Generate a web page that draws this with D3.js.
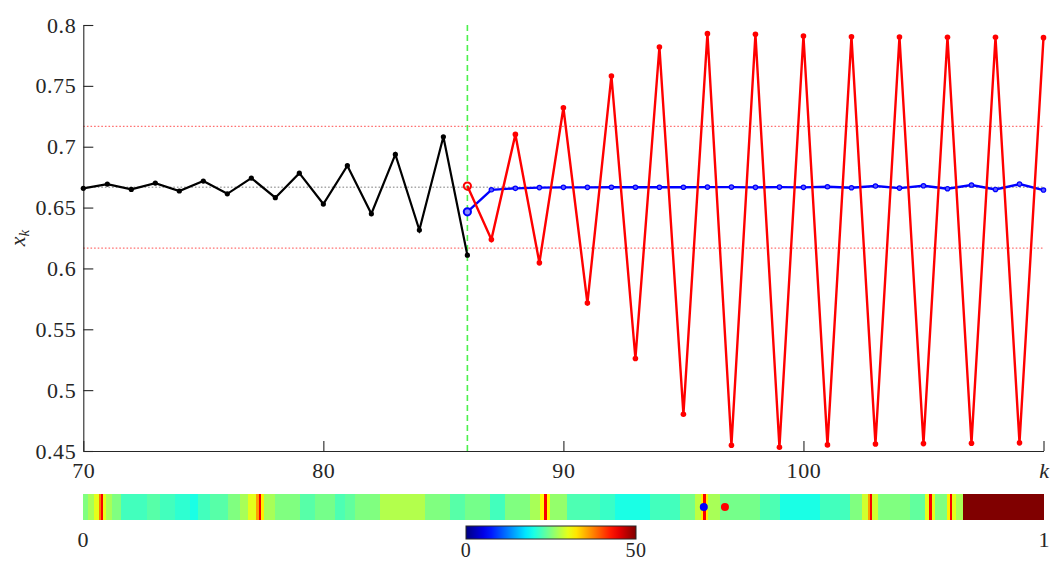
<!DOCTYPE html>
<html><head><meta charset="utf-8">
<script src="https://cdn.jsdelivr.net/npm/d3@7"></script>
<style>
body{margin:0;background:#fff;}
svg{display:block;}
text{font-family:"Liberation Serif","Times New Roman",serif;fill:#262626;}
</style></head><body>
<svg id="c" width="1050" height="564"></svg>
<script>
// ---------- data ----------
const kBlack = [70,71,72,73,74,75,76,77,78,79,80,81,82,83,84,85,86];
const xBlack = [0.6658,0.6693,0.6649,0.6701,0.6636,0.6718,0.6613,0.6742,0.6581,0.6783,0.6529,0.6844,0.6449,0.6937,0.6315,0.7082,0.6109];
const kRed = [86,87,88,89,90,91,92,93,94,95,96,97,98,99,100,101,102,103,104,105,106,107,108,109,110];
const xRed = [0.6677,0.6238,0.7101,0.6046,0.7320,0.5715,0.7581,0.5260,0.7819,0.4802,0.7929,0.4547,0.7923,0.4531,0.7910,0.4550,0.7904,0.4558,0.7901,0.4561,0.7899,0.4564,0.7899,0.4567,0.7896];
const kBlue = kRed;
const xBlue = [0.6465,0.6646,0.6658,0.6664,0.6666,0.6666,0.6667,0.6667,0.6667,0.6667,0.6668,0.6668,0.6666,0.6668,0.6666,0.6671,0.6663,0.6677,0.6660,0.6679,0.6655,0.6685,0.6649,0.6693,0.6644];
const fixedPoint = 2/3;
const bandLevels = [0.7167, 0.6167];
const kSwitch = 86;
const xTicks = [70,80,90,100,110];
const xTickLabels = ["70","80","90","100","k"];
const yTicks = [0.45,0.5,0.55,0.6,0.65,0.7,0.75,0.8];
const yTickLabels = ["0.45","0.5","0.55","0.6","0.65","0.7","0.75","0.8"];
// strip: parameter breakpoints in [0,1] and value (0..50) of each segment
const stripEdges = [0,0.0052,0.0114,0.0166,0.0187,0.0208,0.0239,0.0302,0.0395,0.0666,0.0801,0.0957,0.1113,0.1197,0.1322,0.1509,0.1634,0.1717,0.1800,0.1831,0.1852,0.1883,0.1998,0.2258,0.2414,0.2622,0.2726,0.2830,0.3091,0.3559,0.3819,0.3975,0.4235,0.4391,0.4651,0.4755,0.4797,0.4828,0.4860,0.5036,0.5380,0.5536,0.5900,0.6212,0.6368,0.6431,0.6452,0.6483,0.6504,0.6629,0.7045,0.7253,0.7669,0.7981,0.8106,0.8169,0.8189,0.8210,0.8273,0.8606,0.8762,0.8803,0.8835,0.8866,0.8990,0.9022,0.9043,0.9084,0.9157,1];
const stripValues = [25,27,30,38,44,30,27,25,22,23,22,21,20,22,23,25,27,30,36,44,32,27,25,23,24.5,22.5,23.5,25,27.5,25,23,24.5,22,25,27,31,44,31,26,22.5,21.5,20,22,24.5,28,32,44,32,27,24.5,22.5,20,22,25,29,36,44,29,25,23.5,30,44,30,25,32,44,30,27,50];
const stripMarkers = [{p:0.646,color:"#0000ff"},{p:0.668,color:"#ff0000"}];
const cbarDomain = [0,50];
const stripTickLabels = ["0","1"];

// ---------- helpers ----------
function jet(t){
  t=Math.max(0,Math.min(1,t));
  const f=(a)=>Math.max(0,Math.min(1,a));
  const r=f(1.5-Math.abs(4*t-3)), g=f(1.5-Math.abs(4*t-2)), b=f(1.5-Math.abs(4*t-1));
  return d3.rgb(r*255,g*255,b*255).formatHex();
}
const FONT='"Liberation Serif","Times New Roman",serif';

const svg=d3.select("#c");
const x=d3.scaleLinear().domain([70,110]).range([83.3,1043.5]);
const y=d3.scaleLinear().domain([0.45,0.8]).range([451,25]);

// reference lines
const ref=svg.append("g");
ref.selectAll("line.band").data(bandLevels).join("line")
  .attr("x1",x(70)).attr("x2",x(110)).attr("y1",d=>y(d)).attr("y2",d=>y(d))
  .attr("stroke","#ff7070").attr("stroke-width",1.4).attr("stroke-dasharray","1.6,2");
ref.append("line").attr("x1",x(70)).attr("x2",x(110)).attr("y1",y(fixedPoint)).attr("y2",y(fixedPoint))
  .attr("stroke","#a8a8a8").attr("stroke-width",1.4).attr("stroke-dasharray","1.6,2");
ref.append("line").attr("x1",x(kSwitch)).attr("x2",x(kSwitch)).attr("y1",y(0.8)).attr("y2",y(0.45))
  .attr("stroke","#4cf04c").attr("stroke-width",1.6).attr("stroke-dasharray","6,4");

// axes
const yAxis=svg.append("g").attr("transform",`translate(${x(70)},0)`)
  .call(d3.axisLeft(y).tickValues(yTicks).tickFormat((d,i)=>yTickLabels[i]).tickSize(-10).tickSizeOuter(0).tickPadding(7));
const xAxis=svg.append("g").attr("transform",`translate(0,${y(0.45)})`)
  .call(d3.axisBottom(x).tickValues(xTicks).tickFormat((d,i)=>xTickLabels[i]).tickSize(-10).tickSizeOuter(0));
[yAxis,xAxis].forEach(a=>{
  a.attr("font-family",FONT);
  a.select(".domain").attr("stroke","#262626").attr("stroke-width",1.1);
  a.selectAll(".tick line").attr("stroke","#262626").attr("stroke-width",1.1);
  a.selectAll(".tick text").style("font-family",FONT).attr("font-size",22).attr("fill","#262626").attr("letter-spacing","0.6px");
});
xAxis.selectAll(".tick text").attr("y",27).attr("dy","0");
xAxis.selectAll(".tick text").filter((d,i)=>xTickLabels[i]==="k").attr("font-style","italic").attr("letter-spacing","0");

// y label
const yl=svg.append("text").attr("transform",`translate(25,238) rotate(-90)`).attr("text-anchor","middle")
  .attr("font-size",22);
yl.append("tspan").attr("font-style","italic").text("x");
yl.append("tspan").attr("font-style","italic").attr("font-size",15).attr("dy",4).text("k");

const line=d3.line().x(d=>x(d[0])).y(d=>y(d[1]));
function series(ks,vs){ return ks.map((k,i)=>[k,vs[i]]); }

// black series
const bData=series(kBlack,xBlack);
svg.append("path").attr("d",line(bData)).attr("fill","none").attr("stroke","#000").attr("stroke-width",2.2);
svg.selectAll("circle.b").data(bData).join("circle").attr("cx",d=>x(d[0])).attr("cy",d=>y(d[1])).attr("r",2.6).attr("fill","#000");

// blue series
const blData=series(kBlue,xBlue);
svg.append("path").attr("d",line(blData)).attr("fill","none").attr("stroke","#0000ff").attr("stroke-width",2.4);
svg.selectAll("circle.bl").data(blData.slice(1)).join("circle").attr("cx",d=>x(d[0])).attr("cy",d=>y(d[1])).attr("r",2.2)
  .attr("fill","#5a5aff").attr("stroke","#0000ff").attr("stroke-width",1.2);
svg.append("circle").attr("cx",x(blData[0][0])).attr("cy",y(blData[0][1])).attr("r",3.6).attr("fill","#8c8cff").attr("stroke","#0000ff").attr("stroke-width",2);

// red series
const rData=series(kRed,xRed);
svg.append("path").attr("d",line(rData)).attr("fill","none").attr("stroke","#ff0000").attr("stroke-width",2.4);
svg.selectAll("circle.r").data(rData.slice(1)).join("circle").attr("cx",d=>x(d[0])).attr("cy",d=>y(d[1])).attr("r",2.8).attr("fill","#ff0000");
svg.append("circle").attr("cx",x(rData[0][0])).attr("cy",y(rData[0][1])).attr("r",3.6).attr("fill","none").attr("stroke","#ff0000").attr("stroke-width",2);

// strip
const p=d3.scaleLinear().domain([0,1]).range([83,1044]);
const c=d3.scaleLinear().domain(cbarDomain).range([0,1]);
const segs=stripValues.map((v,i)=>({a:stripEdges[i],b:stripEdges[i+1],v}));
svg.append("g").selectAll("rect").data(segs).join("rect")
  .attr("x",d=>p(d.a)).attr("width",d=>p(d.b)-p(d.a)+0.4).attr("y",494).attr("height",26)
  .attr("fill",d=>jet(c(d.v))).attr("shape-rendering","crispEdges");
svg.selectAll("circle.sm").data(stripMarkers).join("circle").attr("cx",d=>p(d.p)).attr("cy",507).attr("r",4).attr("fill",d=>d.color);
svg.selectAll("text.st").data([0,1]).join("text").attr("x",d=>p(d)).attr("y",547).attr("text-anchor","middle")
  .attr("font-size",22).text((d,i)=>stripTickLabels[i]);

// colorbar
const cb=d3.scaleLinear().domain(cbarDomain).range([466,636]);
const grad=svg.append("defs").append("linearGradient").attr("id","jetg");
d3.range(0,1.0001,0.05).forEach(t=>grad.append("stop").attr("offset",t).attr("stop-color",jet(t)));
svg.append("rect").attr("x",cb(0)).attr("y",526).attr("width",cb(50)-cb(0)).attr("height",13)
  .attr("fill","url(#jetg)").attr("stroke","#262626").attr("stroke-width",1);
svg.selectAll("text.cb").data(cbarDomain).join("text").attr("x",d=>cb(d)).attr("y",557).attr("text-anchor","middle")
  .attr("font-size",20).attr("letter-spacing","0.6px").text(d=>d);
</script></body></html>
